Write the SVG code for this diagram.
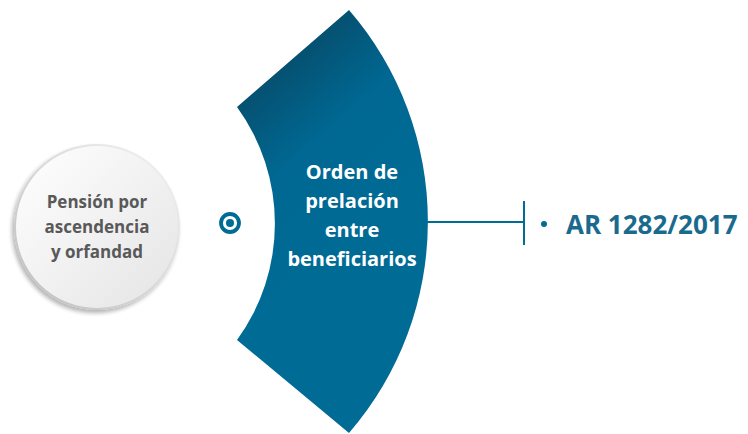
<svg xmlns="http://www.w3.org/2000/svg" width="748" height="434" viewBox="0 0 748 434">
<defs>
<linearGradient id="band" x1="237" y1="10" x2="400" y2="200" gradientUnits="userSpaceOnUse">
<stop offset="0" stop-color="#0a3b52"/>
<stop offset="0.6" stop-color="#006892"/>
<stop offset="1" stop-color="#006b95"/>
</linearGradient>
<linearGradient id="disc" x1="0" y1="0" x2="1" y2="1">
<stop offset="0" stop-color="#ffffff"/>
<stop offset="1" stop-color="#e4e4e4"/>
</linearGradient>
<linearGradient id="rim" x1="1" y1="0" x2="0" y2="1">
<stop offset="0" stop-color="#f4f4f4"/>
<stop offset="1" stop-color="#bdbdbd"/>
</linearGradient>
<filter id="sh" x="-20%" y="-20%" width="140%" height="140%">
<feGaussianBlur in="SourceAlpha" stdDeviation="2"/>
<feOffset dx="-2" dy="3"/>
<feComponentTransfer><feFuncA type="linear" slope="0.3"/></feComponentTransfer>
<feMerge><feMergeNode/><feMergeNode in="SourceGraphic"/></feMerge>
</filter>
<style>
.lbl{font-family:"Open Sans","Noto Sans","Liberation Sans",sans-serif;font-weight:bold;text-anchor:middle}
.blue{fill:#006b94}
</style>
</defs>
<g id="node-pension">
<circle cx="97" cy="227" r="82" fill="url(#disc)" stroke="url(#rim)" stroke-width="2" filter="url(#sh)"/>
<text class="lbl" x="97" y="208" font-size="17" fill="#595959">Pensión por</text>
<text class="lbl" x="97" y="233" font-size="17" fill="#595959">ascendencia</text>
<text class="lbl" x="97" y="258" font-size="17" fill="#595959">y orfandad</text>
</g>
<g id="node-icon">
<circle cx="230" cy="223" r="9" fill="none" stroke="#006b94" stroke-width="3.8"/>
<circle cx="230" cy="223" r="4" class="blue"/>
</g>
<g id="node-orden">
<path d="M237,107 L349,10 A323,323 0 0 1 349,433 L237,340 A198,198 0 0 0 237,107 Z" fill="url(#band)"/>
<text class="lbl" x="352" y="179" font-size="20" fill="#ffffff">Orden de</text>
<text class="lbl" x="352" y="208" font-size="20" fill="#ffffff">prelación</text>
<text class="lbl" x="352" y="237" font-size="20" fill="#ffffff">entre</text>
<text class="lbl" x="352" y="266" font-size="20" fill="#ffffff">beneficiarios</text>
</g>
<g id="connectors">
<line x1="427" y1="222" x2="524" y2="222" stroke="#006b94" stroke-width="2"/>
<line x1="524" y1="201" x2="524" y2="245" stroke="#006b94" stroke-width="2"/>
</g>
<g id="node-ar">
<circle cx="544" cy="224" r="3" class="blue"/>
<text x="566" y="234" font-family="'Open Sans','Noto Sans','Liberation Sans',sans-serif" font-weight="bold" font-size="26" fill="#1a6a8e">AR 1282/2017</text>
</g>
</svg>
